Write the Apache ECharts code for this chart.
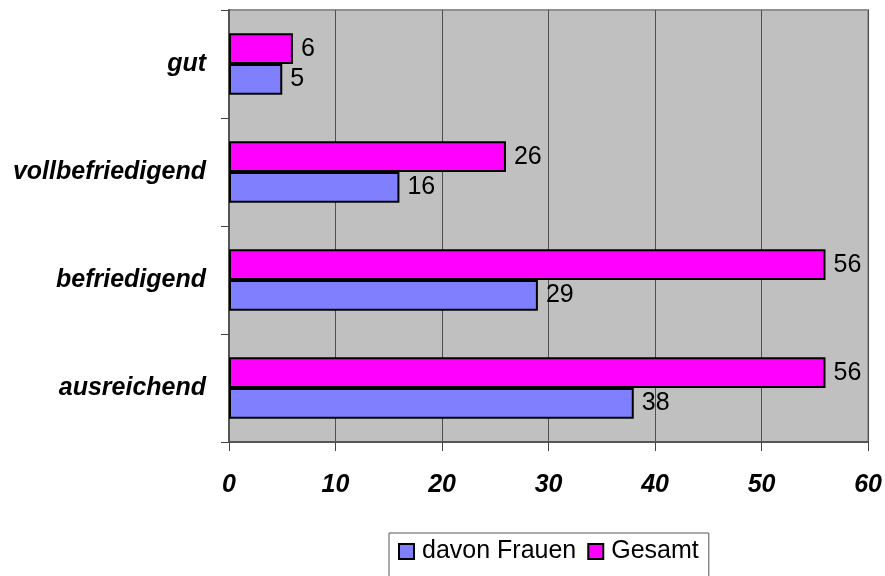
<!DOCTYPE html>
<html>
<head>
<meta charset="utf-8">
<script src="https://cdn.jsdelivr.net/npm/echarts@6/dist/echarts.min.js"></script>
<style>
  html, body { margin: 0; padding: 0; background: #fff; }
  #chart { width: 885px; height: 576px; }
</style>
</head>
<body>
<div id="chart"></div>
<script>
var categories = ["ausreichend", "befriedigend", "vollbefriedigend", "gut"];
var frauen = [38, 29, 16, 5];
var gesamt = [56, 56, 26, 6];
var xTicks = [0, 10, 20, 30, 40, 50, 60];

var font = "'Liberation Sans', Arial, sans-serif";
var chart = echarts.init(document.getElementById("chart"));

var barLabel = {
  show: true,
  position: "right",
  distance: 8,
  color: "#000",
  fontSize: 25,
  fontFamily: font
};

chart.setOption({
  animation: false,
  grid: {
    left: 229,
    right: 15,
    top: 10,
    bottom: 134,
    show: true,
    backgroundColor: "#C0C0C0",
    borderColor: "#909090",
    borderWidth: 2
  },
  legend: {
    data: ["davon Frauen", "Gesamt"],
    left: 389,
    top: 533,
    padding: [6, 10, 14, 9],
    borderColor: "#555",
    borderWidth: 1,
    itemWidth: 15,
    itemHeight: 15,
    itemGap: 11,
    icon: "rect",
    textStyle: { fontSize: 25, fontFamily: font, color: "#000", padding: [0, 0, 0, 3] }
  },
  xAxis: {
    type: "value",
    min: xTicks[0],
    max: xTicks[xTicks.length - 1],
    interval: 10,
    axisLine: { show: true, lineStyle: { color: "#555", width: 2 } },
    axisTick: { show: true, length: 9, lineStyle: { color: "#444" } },
    splitLine: { show: true, lineStyle: { color: "#505050", width: 1 } },
    axisLabel: {
      margin: 31,
      fontSize: 25,
      fontWeight: "bold",
      fontStyle: "italic",
      fontFamily: font,
      color: "#000"
    }
  },
  yAxis: {
    type: "category",
    data: categories,
    axisLine: { show: true, lineStyle: { color: "#555", width: 2 } },
    axisTick: { show: true, length: 8, lineStyle: { color: "#444" } },
    axisLabel: {
      margin: 23,
      fontSize: 25,
      fontWeight: "bold",
      fontStyle: "italic",
      fontFamily: font,
      color: "#000"
    }
  },
  series: [
    {
      name: "Gesamt",
      type: "bar",
      data: gesamt,
      barGap: "0%",
      barCategoryGap: "43%",
      itemStyle: { color: "#FF00FF", borderColor: "#000", borderWidth: 2 },
      label: barLabel
    },
    {
      name: "davon Frauen",
      type: "bar",
      data: frauen,
      barGap: "0%",
      barCategoryGap: "43%",
      itemStyle: { color: "#8080FF", borderColor: "#000", borderWidth: 2 },
      label: barLabel
    }
  ]
});
</script>
</body>
</html>
